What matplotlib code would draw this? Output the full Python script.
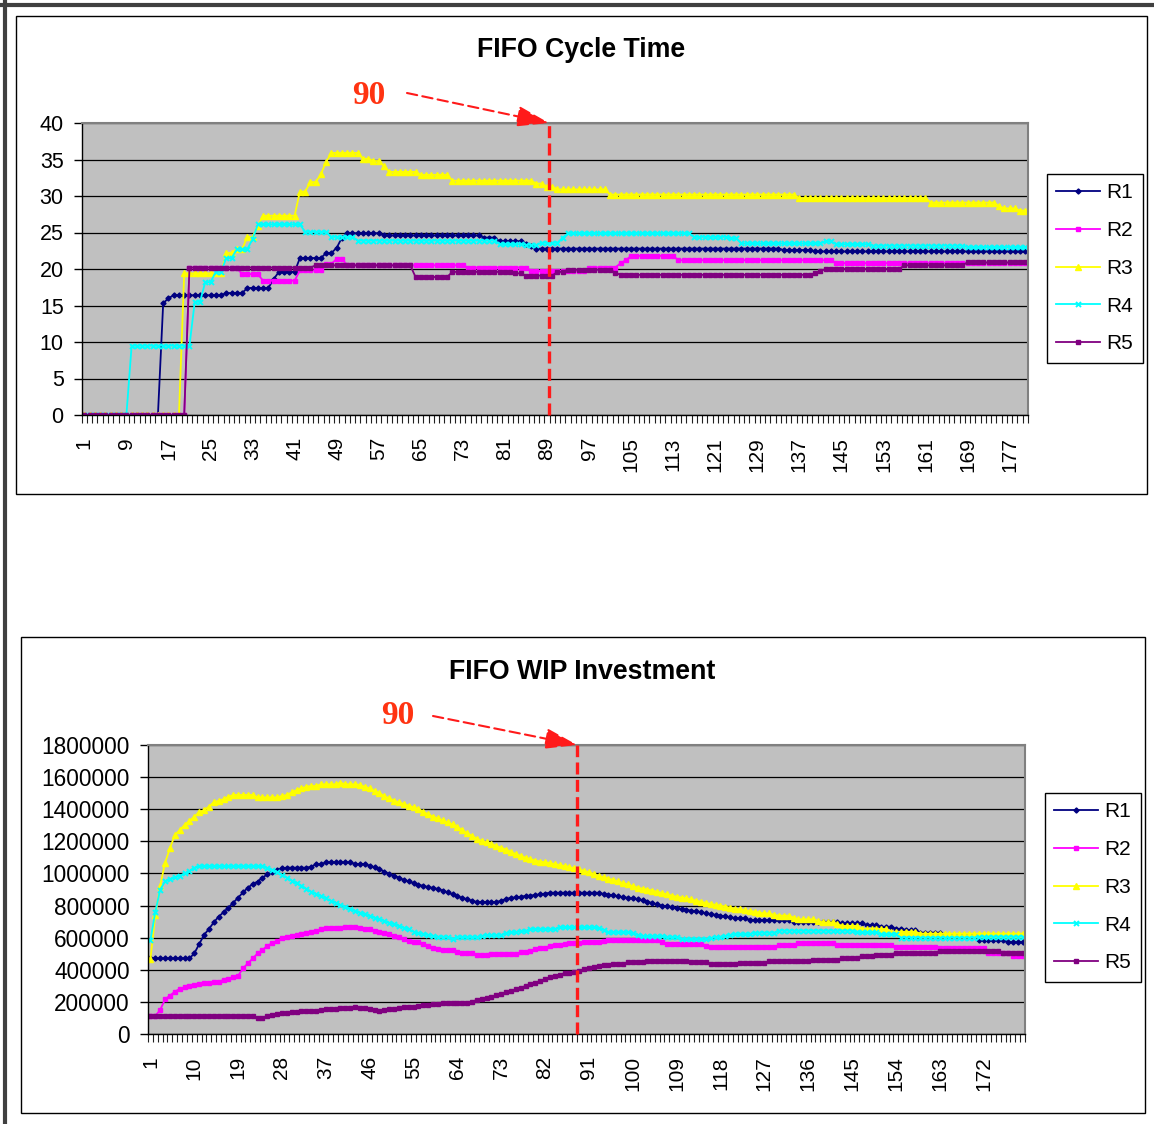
import numpy as np
import matplotlib
matplotlib.use('Agg')
import matplotlib.pyplot as plt
from matplotlib.lines import Line2D

plt.rcParams['font.family'] = ['Liberation Sans', 'DejaVu Sans']

N = 180  # periods on the category axis

# FIFO cycle time: (first period, value) steps
ct_r1 = [(1, 0), (16, 15.3), (17, 16.0), (18, 16.4), (28, 16.7), (32, 17.4), (37, 18.6),
         (38, 19.6), (42, 21.5), (47, 22.2), (49, 22.9), (50, 24.3), (51, 24.9), (58, 24.6),
         (77, 24.3), (80, 23.8), (85, 23.4), (86, 23.1), (87, 22.8), (134, 22.6), (140, 22.4)]
ct_r2 = [(1, 0), (21, 20.2), (31, 19.3), (35, 18.4), (42, 19.8), (47, 20.7), (49, 21.4),
         (51, 20.5), (74, 20.2), (86, 19.7), (97, 20.2), (103, 20.8), (104, 21.2), (105, 21.8),
         (114, 21.2), (144, 20.8)]
ct_r3 = [(1, 0), (20, 19.4), (28, 22.2), (30, 22.7), (32, 24.4), (34, 25.9), (35, 27.3),
         (42, 30.6), (44, 31.9), (46, 33.0), (47, 34.7), (48, 35.9), (54, 35.1), (56, 34.8),
         (58, 34.1), (59, 33.3), (65, 32.9), (71, 32.1), (87, 31.7), (89, 31.3), (91, 30.9),
         (101, 30.2), (137, 29.7), (162, 29.1), (175, 28.6), (176, 28.3), (179, 28.0)]
ct_r4 = [(1, 0), (10, 9.5), (22, 15.5), (24, 18.2), (26, 19.6), (28, 21.5), (30, 22.7),
         (33, 24.1), (34, 26.1), (43, 25.1), (48, 24.4), (53, 23.9), (80, 23.4), (85, 23.3),
         (88, 23.6), (92, 24.3), (93, 24.9), (117, 24.4), (124, 24.2), (126, 23.5), (142, 23.8),
         (144, 23.4), (151, 23.2), (169, 23.0)]
ct_r5 = [(1, 0), (21, 20.2), (45, 20.5), (64, 18.9), (71, 19.6), (83, 19.4), (85, 19.1),
         (91, 19.6), (93, 19.9), (102, 19.5), (103, 19.2), (140, 19.4), (141, 19.7), (142, 20.0),
         (157, 20.5), (169, 20.9)]

# FIFO WIP investment in thousands: (first period, value) steps
wip_r1 = [(1, 471), (10, 502), (11, 560), (12, 617), (13, 654), (14, 695), (15, 731), (16, 758),
          (17, 787), (18, 818), (19, 849), (20, 882), (21, 911), (22, 934), (23, 949), (24, 974),
          (25, 994), (26, 1011), (27, 1021), (28, 1032), (29, 1036), (34, 1042), (35, 1057),
          (37, 1069), (43, 1059), (46, 1048), (47, 1038), (48, 1026), (49, 1011), (50, 997),
          (51, 986), (52, 974), (53, 959), (54, 950), (55, 940), (56, 930), (57, 922), (58, 915),
          (59, 910), (60, 903), (61, 893), (62, 882), (63, 870), (64, 858), (65, 848), (66, 839),
          (67, 830), (68, 822), (73, 830), (74, 841), (75, 848), (76, 851), (77, 855), (78, 860),
          (79, 862), (80, 866), (81, 870), (82, 875), (83, 880), (94, 872), (95, 868), (96, 864),
          (97, 857), (98, 852), (99, 848), (100, 845), (101, 838), (102, 832), (103, 824),
          (104, 815), (105, 808), (106, 800), (107, 795), (108, 789), (109, 783), (110, 778),
          (111, 773), (112, 768), (113, 763), (114, 758), (115, 752), (116, 747), (117, 742),
          (118, 737), (119, 732), (120, 727), (121, 722), (122, 720), (124, 710), (133, 700),
          (137, 695), (143, 689), (148, 679), (151, 668), (154, 655), (156, 648), (159, 631),
          (164, 617), (171, 585), (177, 571)]
wip_r2 = [(1, 112), (3, 150), (4, 216), (5, 239), (6, 264), (7, 280), (8, 291), (9, 301),
          (10, 305), (11, 311), (12, 316), (14, 322), (15, 326), (16, 336), (17, 343), (18, 357),
          (19, 363), (20, 409), (21, 440), (22, 471), (23, 502), (24, 523), (25, 550), (26, 565),
          (27, 581), (28, 596), (29, 606), (30, 612), (31, 617), (32, 623), (33, 631), (34, 637),
          (35, 641), (36, 652), (37, 658), (40, 662), (41, 664), (44, 658), (45, 654), (47, 644),
          (48, 637), (49, 627), (50, 621), (51, 610), (52, 602), (53, 592), (54, 581), (55, 575),
          (56, 571), (57, 558), (58, 550), (59, 538), (60, 529), (61, 523), (64, 510), (65, 502),
          (68, 492), (71, 496), (77, 509), (78, 513), (79, 517), (80, 527), (81, 533), (82, 538),
          (83, 548), (84, 554), (85, 556), (86, 558), (87, 565), (90, 570), (91, 575), (94, 580),
          (95, 585), (106, 571), (107, 558), (115, 548), (116, 540), (130, 554), (134, 565),
          (142, 554), (154, 540), (163, 533), (173, 502), (178, 486)]
wip_r3 = [(1, 467), (2, 741), (3, 922), (4, 1067), (5, 1156), (6, 1239), (7, 1270), (8, 1302),
          (9, 1327), (10, 1354), (11, 1381), (12, 1395), (13, 1416), (14, 1443), (15, 1453),
          (16, 1462), (17, 1478), (18, 1489), (23, 1474), (28, 1482), (29, 1489), (30, 1505),
          (31, 1520), (32, 1530), (33, 1540), (34, 1545), (36, 1555), (40, 1565), (41, 1555),
          (44, 1551), (45, 1540), (46, 1530), (47, 1513), (48, 1499), (49, 1482), (50, 1468),
          (51, 1453), (52, 1443), (53, 1432), (54, 1422), (55, 1412), (56, 1401), (57, 1385),
          (58, 1368), (59, 1354), (60, 1343), (61, 1330), (62, 1318), (63, 1306), (64, 1290),
          (65, 1270), (66, 1250), (67, 1235), (68, 1215), (69, 1203), (70, 1194), (71, 1185),
          (72, 1170), (73, 1160), (74, 1148), (75, 1135), (76, 1120), (77, 1110), (78, 1098),
          (79, 1088), (80, 1080), (81, 1074), (82, 1069), (83, 1065), (84, 1058), (85, 1052),
          (86, 1046), (87, 1040), (88, 1032), (89, 1025), (90, 1016), (91, 1008), (92, 996),
          (93, 985), (94, 975), (95, 967), (96, 960), (97, 950), (98, 940), (99, 932), (100, 920),
          (101, 912), (102, 905), (103, 900), (104, 893), (105, 886), (106, 878), (107, 870),
          (108, 862), (109, 855), (110, 850), (111, 845), (112, 838), (113, 830), (114, 824),
          (115, 816), (116, 810), (117, 804), (118, 799), (119, 794), (120, 786), (121, 780),
          (122, 776), (123, 770), (124, 766), (125, 762), (126, 755), (127, 751), (129, 742),
          (130, 737), (133, 725), (134, 714), (138, 705), (139, 695), (142, 685), (143, 673),
          (147, 654), (153, 637), (159, 625)]
wip_r4 = [(1, 585), (2, 760), (3, 900), (4, 950), (5, 965), (6, 975), (7, 985), (8, 1000),
          (9, 1015), (10, 1035), (11, 1046), (25, 1032), (26, 1021), (27, 1007), (28, 990),
          (29, 974), (30, 955), (31, 938), (32, 924), (33, 903), (34, 886), (35, 872), (36, 859),
          (37, 845), (38, 830), (39, 818), (40, 803), (41, 793), (42, 778), (43, 766), (44, 756),
          (45, 745), (46, 735), (47, 725), (48, 714), (49, 704), (50, 693), (51, 683), (52, 673),
          (53, 662), (54, 652), (55, 637), (56, 627), (57, 623), (58, 617), (59, 610), (60, 606),
          (63, 592), (64, 602), (69, 610), (70, 617), (74, 627), (75, 633), (77, 641), (79, 654),
          (85, 664), (93, 658), (94, 648), (95, 633), (100, 627), (101, 617), (102, 610),
          (107, 602), (110, 592), (116, 596), (117, 602), (118, 606), (119, 610), (120, 617),
          (121, 621), (125, 631), (130, 644), (146, 633), (151, 621), (155, 600), (171, 606)]
wip_r5 = [(1, 112), (23, 98), (24, 102), (25, 112), (26, 118), (27, 125), (28, 129), (30, 135),
          (31, 139), (32, 143), (33, 145), (36, 149), (37, 156), (40, 160), (42, 164), (43, 170),
          (44, 164), (45, 160), (46, 156), (47, 149), (48, 145), (49, 149), (50, 156), (52, 160),
          (53, 166), (54, 170), (56, 176), (57, 181), (59, 185), (61, 191), (67, 201), (68, 212),
          (69, 218), (70, 222), (71, 230), (72, 240), (73, 247), (74, 259), (75, 268), (76, 278),
          (77, 289), (78, 298), (79, 310), (80, 320), (81, 330), (82, 342), (83, 352), (84, 360),
          (85, 370), (86, 378), (87, 382), (88, 388), (89, 394), (90, 402), (91, 408), (92, 415),
          (93, 422), (94, 428), (95, 432), (96, 436), (99, 446), (103, 457), (112, 446),
          (116, 436), (122, 440), (128, 453), (137, 461), (143, 473), (147, 486), (150, 495),
          (154, 506), (163, 517), (176, 506)]

series_names = ['R1', 'R2', 'R3', 'R4', 'R5']
ct_yticks = [0, 5, 10, 15, 20, 25, 30, 35, 40]
wip_yticks = [0, 200000, 400000, 600000, 800000, 1000000, 1200000, 1400000, 1600000, 1800000]
ct_xlabels = list(range(1, N + 1, 8))
wip_xlabels = list(range(1, N + 1, 9))
cutoff_label = '90'

styles = [
    dict(color='#000080', marker='D', ms=2.6),
    dict(color='#ff00ff', marker='s', ms=3.4),
    dict(color='#ffff00', marker='^', ms=4.2),
    dict(color='#00ffff', marker='x', ms=3.6, mew=1.4),
    dict(color='#800080', marker='s', ms=3.4),
]

W, H = 1154, 1124
RED = '#ff1a1a'


def expand(steps):
    starts = [s for s, _ in steps] + [N + 1]
    return np.repeat([v for _, v in steps], np.diff(starts)).astype(float)


def box(l, t, r, b):
    return [l / W, 1 - b / H, (r - l) / W, (b - t) / H]


fig = plt.figure(figsize=(W / 100, H / 100), dpi=100)

# page border and chart frames
fig.add_artist(Line2D([4.5 / W, 4.5 / W], [0, 1], color='#404040', lw=3, transform=fig.transFigure))
fig.add_artist(Line2D([0, 1], [1 - 4.5 / H, 1 - 4.5 / H], color='#404040', lw=3, transform=fig.transFigure))
for l, t, r, b in [(15.5, 15.5, 1147, 494), (20.5, 637, 1145, 1113)]:
    fig.add_artist(plt.Rectangle((l / W, 1 - b / H), (r - l) / W, (b - t) / H, fill=False,
                                 ec='black', lw=1, transform=fig.transFigure))


def draw(ax, data, scale, yticks, ylabelsize, xlabels, title, title_xy, legend_xy, cut_x,
         label_xy, arrow_from):
    x = np.arange(1, N + 1)
    for name, st, d in zip(series_names, styles, data):
        ax.plot(x, expand(d) * scale, lw=1.3, label=name, **st)
    ax.set_xlim(0.5, N + 0.5)
    ax.set_ylim(yticks[0], yticks[-1])
    ax.set_facecolor('#c0c0c0')
    ax.set_yticks(yticks)
    ax.set_yticklabels([str(v) for v in yticks])
    ax.yaxis.grid(True, color='black', lw=0.9)
    ax.set_axisbelow(True)
    ax.set_xticks(xlabels)
    ax.set_xticklabels([str(v) for v in xlabels], rotation=90)
    ax.set_xticks(np.arange(0.5, N + 1, 1), minor=True)
    ax.tick_params(axis='x', which='major', length=0, pad=16, labelsize=15)
    ax.tick_params(axis='x', which='minor', length=6, width=0.8, color='#202020')
    ax.tick_params(axis='y', length=6, width=1, pad=7, labelsize=ylabelsize)
    for s in ('top', 'right'):
        ax.spines[s].set_color('#808080')
        ax.spines[s].set_linewidth(1.5)
    for s in ('left', 'bottom'):
        ax.spines[s].set_linewidth(1)

    leg = ax.legend(loc='upper left', bbox_to_anchor=(legend_xy[0] / W, 1 - legend_xy[1] / H),
                    bbox_transform=fig.transFigure, fancybox=False, edgecolor='black',
                    fontsize=15, labelspacing=0.9, handlelength=2.1, handletextpad=0.3,
                    borderpad=0.45, borderaxespad=0, framealpha=1)
    leg.get_frame().set_linewidth(1)

    fig.text(title_xy[0] / W, 1 - title_xy[1] / H, title, ha='center', va='center',
             fontsize=19.3, fontweight='bold')

    # cutoff marker at period 90
    ax.plot([cut_x, cut_x], [yticks[0], yticks[-1]], color=RED, lw=2.4,
            ls=(0, (3.6, 1.6)), clip_on=False, zorder=5)
    fig.text(label_xy[0] / W, 1 - label_xy[1] / H, cutoff_label, ha='center', va='center',
             fontsize=24, fontweight='bold', family='Liberation Serif', color='#ff3311')
    ax.annotate('', xy=(cut_x, yticks[-1]), xycoords='data',
                xytext=(arrow_from[0], H - arrow_from[1]), textcoords='figure pixels',
                arrowprops=dict(arrowstyle='-|>,head_length=1.0,head_width=0.32', color=RED,
                                lw=1.5, ls=(0, (5, 2.5)), shrinkA=0, shrinkB=0,
                                mutation_scale=20), annotation_clip=False)


ax1 = fig.add_axes(box(81.7, 123, 1028, 415))
draw(ax1, [ct_r1, ct_r2, ct_r3, ct_r4, ct_r5], 1, ct_yticks, 15.5, ct_xlabels,
     'FIFO Cycle Time', (581, 50), (1047, 174), 89.4, (369, 95), (407, 93))

ax2 = fig.add_axes(box(148, 745, 1025, 1034))
draw(ax2, [wip_r1, wip_r2, wip_r3, wip_r4, wip_r5], 1000, wip_yticks, 16.3, wip_xlabels,
     'FIFO WIP Investment', (582, 672), (1045, 793), 88.6, (398, 716), (433, 716))

fig.savefig('out.png', dpi=100)
